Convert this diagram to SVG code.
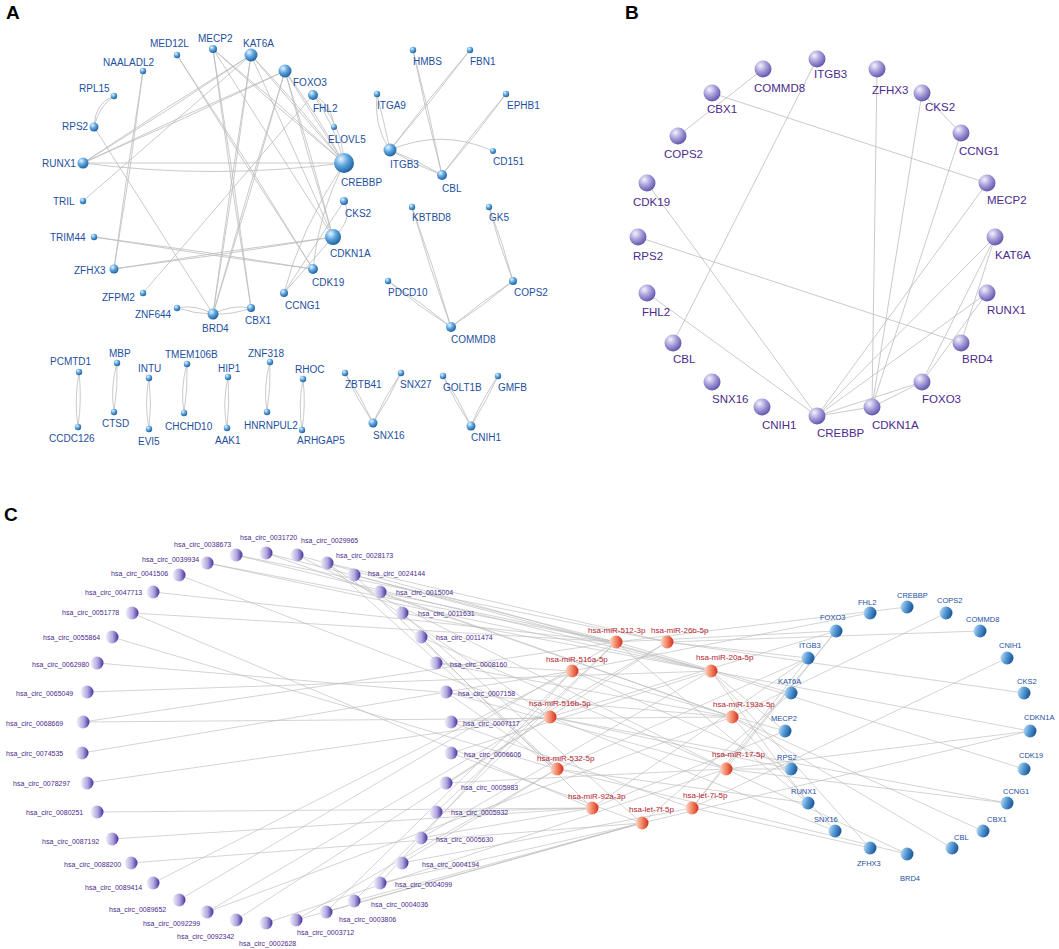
<svg xmlns="http://www.w3.org/2000/svg" width="1059" height="949" viewBox="0 0 1059 949">
<defs>
<radialGradient id="gA" cx="0.35" cy="0.3" r="0.75"><stop offset="0" stop-color="#eaf5fd"/><stop offset="0.45" stop-color="#5fa8e0"/><stop offset="1" stop-color="#1b5a9a"/></radialGradient>
<radialGradient id="gB" cx="0.35" cy="0.3" r="0.75"><stop offset="0" stop-color="#f4f2fc"/><stop offset="0.5" stop-color="#a39bd8"/><stop offset="1" stop-color="#5c50a8"/></radialGradient>
<linearGradient id="gCirc" x1="0" y1="0" x2="1" y2="0"><stop offset="0" stop-color="#f4f2fc"/><stop offset="0.55" stop-color="#b0a8de"/><stop offset="1" stop-color="#4a2c9e"/></linearGradient>
<linearGradient id="gMir" x1="0" y1="0" x2="1" y2="0"><stop offset="0" stop-color="#fcd8ca"/><stop offset="0.55" stop-color="#f0805f"/><stop offset="1" stop-color="#d42e1e"/></linearGradient>
<linearGradient id="gMr" x1="0" y1="0" x2="1" y2="0.3"><stop offset="0" stop-color="#cfe6f8"/><stop offset="0.5" stop-color="#5d9fd8"/><stop offset="1" stop-color="#1d5c9c"/></linearGradient>
</defs>
<style>
.e{stroke:#bcbcbc;stroke-width:0.8;fill:none}
.ec{stroke:#bdbdbd;stroke-width:0.65;fill:none}
.nA{fill:url(#gA)}
.nB{fill:url(#gB)}
.nc{fill:url(#gCirc)}
.nm{fill:url(#gMir)}
.ng{fill:url(#gMr)}
text{font-family:"Liberation Sans",Arial,sans-serif}
.lA{font-size:10px;fill:#1d4f9e}
.lB{font-size:11.5px;fill:#4b2a8c}
.lc{font-size:7px;fill:#4b2a8c}
.lm{font-size:8px;fill:#b2222c}
.lg{font-size:7.5px;fill:#1d4f9e}
.pl{font-size:19px;font-weight:bold;fill:#000}
</style>
<rect width="1059" height="949" fill="#fff"/>
<text class="pl" x="6" y="19">A</text>
<text class="pl" x="625" y="19">B</text>
<text class="pl" x="4" y="521">C</text>

<!-- Panel A connectors -->
<g id="A-edges">
<path class="e" d="M114,96 Q95,102 94,127"/><path class="e" d="M114,96 Q99,106 94,127"/>
<path class="e" d="M143,71 Q127,170 114,269"/><path class="e" d="M143,71 Q131,170 114,269"/>
<path class="e" d="M177,55 Q244,163 313,269"/><path class="e" d="M177,55 Q247,160 313,269"/>
<path class="e" d="M213,49 Q230,179 251,308"/><path class="e" d="M213,49 Q234,178 251,308"/>
<path class="e" d="M213,49 Q277,108 344,163"/><path class="e" d="M213,49 Q280,104 344,163"/>
<path class="e" d="M213,49 L333,237"/>
<path class="e" d="M251,55 Q166,107 83,163"/><path class="e" d="M251,55 Q168,111 83,163"/>
<path class="e" d="M285,71 Q183,115 83,163"/><path class="e" d="M285,71 Q185,119 83,163"/>
<path class="e" d="M83,201 L251,55"/>
<path class="e" d="M94,127 L213,314"/>
<path class="e" d="M251,55 Q230,185 213,314"/><path class="e" d="M251,55 Q234,185 213,314"/>
<path class="e" d="M285,71 Q247,193 213,314"/><path class="e" d="M285,71 Q251,193 213,314"/>
<path class="e" d="M313,95 L143,293"/>
<path class="e" d="M251,55 Q296,108 344,163"/><path class="e" d="M251,55 Q299,105 344,163"/>
<path class="e" d="M251,55 L333,237"/>
<path class="e" d="M285,71 Q313,116 344,163"/><path class="e" d="M285,71 Q316,113 344,163"/>
<path class="e" d="M285,71 Q307,155 333,237"/><path class="e" d="M285,71 Q311,153 333,237"/>
<path class="e" d="M313,95 Q333,120 344,163"/><path class="e" d="M313,95 Q342,122 344,163"/>
<path class="e" d="M313,95 Q332,103 334,127"/>
<path class="e" d="M83,163 L344,163"/><path class="e" d="M83,163 Q213,180 344,163"/>
<path class="e" d="M94,237 Q203,251 313,269"/><path class="e" d="M94,237 Q204,255 313,269"/>
<path class="e" d="M114,269 Q223,251 333,237"/><path class="e" d="M114,269 Q224,255 333,237"/>
<path class="e" d="M344,201 Q354,220 333,237"/>
<path class="e" d="M344,201 L284,293"/>
<path class="e" d="M344,163 Q300,230 284,293"/>
<path class="e" d="M333,237 L284,293"/>
<path class="e" d="M344,163 Q318,215 313,269"/>
<path class="e" d="M177,308 Q195,304 213,314"/><path class="e" d="M177,308 Q195,314 213,314"/>
<path class="e" d="M213,314 Q232,304 251,308"/><path class="e" d="M213,314 Q232,315 251,308"/>
<!-- right cluster -->
<path class="e" d="M377,94 Q373,125 390,150"/><path class="e" d="M377,94 Q384,122 390,150"/>
<path class="e" d="M470,50 Q431.6,101.2 390,150"/><path class="e" d="M470,50 Q428.4,98.8 390,150"/>
<path class="e" d="M413,50 Q429.4,112 442,175"/><path class="e" d="M413,50 Q425.6,113 442,175"/>
<path class="e" d="M506,94 Q475.6,135.7 442,175"/><path class="e" d="M506,94 Q472.4,133.3 442,175"/>
<path class="e" d="M390,150 Q442,128 493,151"/>
<path class="e" d="M390,150 Q415,165 442,175"/><path class="e" d="M390,150 Q417,160 442,175"/>
<path class="e" d="M412,207 Q433.5,266 451,327"/><path class="e" d="M412,207 Q429.5,268 451,327"/>
<path class="e" d="M388,281 Q418,306 451,327"/><path class="e" d="M388,281 Q421,302 451,327"/>
<path class="e" d="M513,281 Q483,306 451,327"/><path class="e" d="M513,281 Q481,302 451,327"/>
<path class="e" d="M489,207 Q503,243 513,281"/><path class="e" d="M489,207 Q499,245 513,281"/>
<!-- pairs -->
<path class="e" d="M79,372 Q74,400 78,427"/><path class="e" d="M79,372 Q82,400 78,427"/>
<path class="e" d="M117,363 Q110,388 114,412"/><path class="e" d="M117,363 Q118,388 114,412"/>
<path class="e" d="M149,378 Q144,404 149,429"/><path class="e" d="M149,378 Q152,404 149,429"/>
<path class="e" d="M187,364 Q180,388 184,413"/><path class="e" d="M187,364 Q188,388 184,413"/>
<path class="e" d="M228,377 Q222,403 227,428"/><path class="e" d="M228,377 Q230,403 227,428"/>
<path class="e" d="M270,362 Q263,387 267,412"/><path class="e" d="M270,362 Q271,387 267,412"/>
<path class="e" d="M303,379 Q298,405 302,430"/><path class="e" d="M303,379 Q306,405 302,430"/>
<path class="e" d="M345,373 Q361,396 373,423"/><path class="e" d="M345,373 Q357,399 373,423"/>
<path class="e" d="M401,373 Q385,396 373,423"/><path class="e" d="M401,373 Q389,399 373,423"/>
<path class="e" d="M443,376 Q459,399 471,426"/><path class="e" d="M443,376 Q455,402 471,426"/>
<path class="e" d="M498,376 Q482,399 471,426"/><path class="e" d="M498,376 Q486,402 471,426"/>
</g>

<!-- Panel A nodes -->
<g id="A-MED12L"><circle class="nA" cx="177" cy="55" r="3.2"/><text class="lA" x="150" y="46.5">MED12L</text></g>
<g id="A-MECP2"><circle class="nA" cx="213" cy="49" r="4"/><text class="lA" x="198" y="41.5">MECP2</text></g>
<g id="A-KAT6A"><circle class="nA" cx="251" cy="55" r="6.5"/><text class="lA" x="243" y="46.5">KAT6A</text></g>
<g id="A-NAALADL2"><circle class="nA" cx="143" cy="71" r="3.2"/><text class="lA" x="103" y="65.5">NAALADL2</text></g>
<g id="A-FOXO3"><circle class="nA" cx="285" cy="71" r="6.5"/><text class="lA" x="293" y="85.5">FOXO3</text></g>
<g id="A-RPL15"><circle class="nA" cx="114" cy="96" r="3.2"/><text class="lA" x="79" y="91.5">RPL15</text></g>
<g id="A-FHL2"><circle class="nA" cx="313" cy="95" r="5"/><text class="lA" x="313" y="111.5">FHL2</text></g>
<g id="A-RPS2"><circle class="nA" cx="94" cy="127" r="4.5"/><text class="lA" x="62" y="129.5">RPS2</text></g>
<g id="A-ELOVL5"><circle class="nA" cx="334" cy="127" r="3"/><text class="lA" x="328" y="142.5">ELOVL5</text></g>
<g id="A-RUNX1"><circle class="nA" cx="83" cy="163" r="5.5"/><text class="lA" x="42" y="166.5">RUNX1</text></g>
<g id="A-CREBBP"><circle class="nA" cx="344" cy="163" r="10"/><text class="lA" x="341" y="185.5">CREBBP</text></g>
<g id="A-TRIL"><circle class="nA" cx="83" cy="201" r="3.2"/><text class="lA" x="53" y="204.5">TRIL</text></g>
<g id="A-CKS2"><circle class="nA" cx="344" cy="201" r="4"/><text class="lA" x="345" y="216.5">CKS2</text></g>
<g id="A-TRIM44"><circle class="nA" cx="94" cy="237" r="3.2"/><text class="lA" x="50" y="240.5">TRIM44</text></g>
<g id="A-CDKN1A"><circle class="nA" cx="333" cy="237" r="8"/><text class="lA" x="330" y="256.5">CDKN1A</text></g>
<g id="A-ZFHX3"><circle class="nA" cx="114" cy="269" r="4.5"/><text class="lA" x="74" y="273.5">ZFHX3</text></g>
<g id="A-CDK19"><circle class="nA" cx="313" cy="269" r="5"/><text class="lA" x="312" y="285.5">CDK19</text></g>
<g id="A-ZFPM2"><circle class="nA" cx="143" cy="293" r="3.2"/><text class="lA" x="102" y="300.5">ZFPM2</text></g>
<g id="A-CCNG1"><circle class="nA" cx="284" cy="293" r="4"/><text class="lA" x="285" y="308.5">CCNG1</text></g>
<g id="A-ZNF644"><circle class="nA" cx="177" cy="308" r="3.2"/><text class="lA" x="135" y="317.5">ZNF644</text></g>
<g id="A-BRD4"><circle class="nA" cx="213" cy="314" r="5.5"/><text class="lA" x="202" y="331.5">BRD4</text></g>
<g id="A-CBX1"><circle class="nA" cx="251" cy="308" r="4"/><text class="lA" x="245" y="323.5">CBX1</text></g>
<g id="A-HMBS"><circle class="nA" cx="413" cy="50" r="3.2"/><text class="lA" x="413" y="64.5">HMBS</text></g>
<g id="A-FBN1"><circle class="nA" cx="470" cy="50" r="3.2"/><text class="lA" x="470" y="64.5">FBN1</text></g>
<g id="A-ITGA9"><circle class="nA" cx="377" cy="94" r="3.2"/><text class="lA" x="377" y="108.5">ITGA9</text></g>
<g id="A-EPHB1"><circle class="nA" cx="506" cy="94" r="3.2"/><text class="lA" x="507" y="108.5">EPHB1</text></g>
<g id="A-ITGB3"><circle class="nA" cx="390" cy="150" r="6.5"/><text class="lA" x="390" y="167.5">ITGB3</text></g>
<g id="A-CBL"><circle class="nA" cx="442" cy="175" r="5"/><text class="lA" x="442" y="191.5">CBL</text></g>
<g id="A-CD151"><circle class="nA" cx="493" cy="151" r="3"/><text class="lA" x="493" y="164.5">CD151</text></g>
<g id="A-KBTBD8"><circle class="nA" cx="412" cy="207" r="3.2"/><text class="lA" x="412" y="220.5">KBTBD8</text></g>
<g id="A-GK5"><circle class="nA" cx="489" cy="207" r="3.2"/><text class="lA" x="489" y="220.5">GK5</text></g>
<g id="A-PDCD10"><circle class="nA" cx="388" cy="281" r="3.2"/><text class="lA" x="388" y="295.5">PDCD10</text></g>
<g id="A-COPS2"><circle class="nA" cx="513" cy="281" r="4"/><text class="lA" x="514" y="295.5">COPS2</text></g>
<g id="A-COMMD8"><circle class="nA" cx="451" cy="327" r="5"/><text class="lA" x="451" y="342.5">COMMD8</text></g>
<g id="A-PCMTD1"><circle class="nA" cx="79" cy="372" r="3.2"/><text class="lA" x="50" y="364.5">PCMTD1</text></g>
<g id="A-CCDC126"><circle class="nA" cx="78" cy="427" r="3.2"/><text class="lA" x="49" y="441.5">CCDC126</text></g>
<g id="A-MBP"><circle class="nA" cx="117" cy="363" r="3.2"/><text class="lA" x="109" y="356.5">MBP</text></g>
<g id="A-CTSD"><circle class="nA" cx="114" cy="412" r="3.2"/><text class="lA" x="102" y="426.5">CTSD</text></g>
<g id="A-INTU"><circle class="nA" cx="149" cy="378" r="3.2"/><text class="lA" x="138" y="371.5">INTU</text></g>
<g id="A-EVI5"><circle class="nA" cx="149" cy="429" r="3.2"/><text class="lA" x="138" y="444.5">EVI5</text></g>
<g id="A-TMEM106B"><circle class="nA" cx="187" cy="364" r="3.2"/><text class="lA" x="165" y="357.5">TMEM106B</text></g>
<g id="A-CHCHD10"><circle class="nA" cx="184" cy="413" r="3.2"/><text class="lA" x="165" y="429.5">CHCHD10</text></g>
<g id="A-HIP1"><circle class="nA" cx="228" cy="377" r="3.2"/><text class="lA" x="218" y="371.5">HIP1</text></g>
<g id="A-AAK1"><circle class="nA" cx="227" cy="428" r="3.2"/><text class="lA" x="215" y="443.5">AAK1</text></g>
<g id="A-ZNF318"><circle class="nA" cx="270" cy="362" r="3.2"/><text class="lA" x="248" y="356.5">ZNF318</text></g>
<g id="A-HNRNPUL2"><circle class="nA" cx="267" cy="412" r="3.2"/><text class="lA" x="244" y="428.5">HNRNPUL2</text></g>
<g id="A-RHOC"><circle class="nA" cx="303" cy="379" r="3.2"/><text class="lA" x="295" y="372.5">RHOC</text></g>
<g id="A-ARHGAP5"><circle class="nA" cx="302" cy="430" r="3.2"/><text class="lA" x="297" y="443.5">ARHGAP5</text></g>
<g id="A-ZBTB41"><circle class="nA" cx="345" cy="373" r="3.2"/><text class="lA" x="345" y="387.5">ZBTB41</text></g>
<g id="A-SNX27"><circle class="nA" cx="401" cy="373" r="3.2"/><text class="lA" x="400" y="387.5">SNX27</text></g>
<g id="A-SNX16"><circle class="nA" cx="373" cy="423" r="4.5"/><text class="lA" x="373" y="438.5">SNX16</text></g>
<g id="A-GOLT1B"><circle class="nA" cx="443" cy="376" r="3.2"/><text class="lA" x="443" y="390.5">GOLT1B</text></g>
<g id="A-GMFB"><circle class="nA" cx="498" cy="376" r="3.2"/><text class="lA" x="498" y="390.5">GMFB</text></g>
<g id="A-CNIH1"><circle class="nA" cx="471" cy="426" r="4.5"/><text class="lA" x="471" y="440.5">CNIH1</text></g>

<!-- Panel B connectors -->
<g id="B-edges" class="e">
<line x1="763" y1="69" x2="678" y2="136"/>
<line x1="712" y1="93" x2="987" y2="183"/>
<line x1="817" y1="59" x2="673" y2="343"/>
<line x1="877" y1="69" x2="872" y2="407"/>
<line x1="922" y1="93" x2="961" y2="133"/>
<line x1="922" y1="93" x2="872" y2="407"/>
<line x1="961" y1="133" x2="872" y2="407"/>
<line x1="987" y1="183" x2="817" y2="416"/>
<line x1="995" y1="237" x2="817" y2="416"/>
<line x1="995" y1="237" x2="961" y2="343"/>
<line x1="995" y1="237" x2="922" y2="382"/>
<line x1="987" y1="293" x2="817" y2="416"/>
<line x1="987" y1="293" x2="922" y2="382"/>
<line x1="638" y1="237" x2="961" y2="343"/>
<line x1="922" y1="382" x2="817" y2="416"/>
<line x1="922" y1="382" x2="872" y2="407"/>
<line x1="872" y1="407" x2="817" y2="416"/>
<line x1="647" y1="183" x2="817" y2="416"/>
<line x1="647" y1="293" x2="817" y2="416"/>
</g>

<!-- Panel B nodes -->
<g id="B-ITGB3"><circle class="nB" cx="817" cy="59" r="8.5"/><text class="lB" x="814" y="78">ITGB3</text></g>
<g id="B-COMMD8"><circle class="nB" cx="763" cy="69" r="8.5"/><text class="lB" x="754" y="92">COMMD8</text></g>
<g id="B-ZFHX3"><circle class="nB" cx="877" cy="69" r="8.5"/><text class="lB" x="872" y="94">ZFHX3</text></g>
<g id="B-CBX1"><circle class="nB" cx="712" cy="93" r="8.5"/><text class="lB" x="707" y="113">CBX1</text></g>
<g id="B-CKS2"><circle class="nB" cx="922" cy="93" r="8.5"/><text class="lB" x="925" y="111">CKS2</text></g>
<g id="B-COPS2"><circle class="nB" cx="678" cy="136" r="8.5"/><text class="lB" x="664" y="158">COPS2</text></g>
<g id="B-CCNG1"><circle class="nB" cx="961" cy="133" r="8.5"/><text class="lB" x="959" y="155">CCNG1</text></g>
<g id="B-CDK19"><circle class="nB" cx="647" cy="183" r="8.5"/><text class="lB" x="633" y="206">CDK19</text></g>
<g id="B-MECP2"><circle class="nB" cx="987" cy="183" r="8.5"/><text class="lB" x="987" y="204">MECP2</text></g>
<g id="B-RPS2"><circle class="nB" cx="638" cy="237" r="8.5"/><text class="lB" x="633" y="260">RPS2</text></g>
<g id="B-KAT6A"><circle class="nB" cx="995" cy="237" r="8.5"/><text class="lB" x="995" y="259">KAT6A</text></g>
<g id="B-FHL2"><circle class="nB" cx="647" cy="293" r="8.5"/><text class="lB" x="642" y="316">FHL2</text></g>
<g id="B-RUNX1"><circle class="nB" cx="987" cy="293" r="8.5"/><text class="lB" x="987" y="314">RUNX1</text></g>
<g id="B-CBL"><circle class="nB" cx="673" cy="343" r="8.5"/><text class="lB" x="673" y="363">CBL</text></g>
<g id="B-BRD4"><circle class="nB" cx="961" cy="343" r="8.5"/><text class="lB" x="962" y="363">BRD4</text></g>
<g id="B-SNX16"><circle class="nB" cx="712" cy="382" r="8.5"/><text class="lB" x="712" y="403">SNX16</text></g>
<g id="B-FOXO3"><circle class="nB" cx="922" cy="382" r="8.5"/><text class="lB" x="922" y="403">FOXO3</text></g>
<g id="B-CNIH1"><circle class="nB" cx="762" cy="407" r="8.5"/><text class="lB" x="762" y="429">CNIH1</text></g>
<g id="B-CDKN1A"><circle class="nB" cx="872" cy="407" r="8.5"/><text class="lB" x="872" y="429">CDKN1A</text></g>
<g id="B-CREBBP"><circle class="nB" cx="817" cy="416" r="8.5"/><text class="lB" x="817" y="437">CREBBP</text></g>

<!-- Panel C connectors -->
<g id="C-edges" class="ec">
<line x1="236" y1="555" x2="667" y2="642"/><line x1="236" y1="555" x2="711" y2="671"/>
<line x1="266" y1="553" x2="616" y2="642"/><line x1="266" y1="553" x2="732" y2="717"/>
<line x1="297" y1="555" x2="711" y2="671"/><line x1="297" y1="555" x2="726" y2="769"/>
<line x1="327" y1="563" x2="550" y2="717"/><line x1="327" y1="563" x2="557" y2="769"/><line x1="327" y1="563" x2="667" y2="642"/>
<line x1="207" y1="563" x2="616" y2="642"/><line x1="207" y1="563" x2="711" y2="671"/>
<line x1="179" y1="575" x2="550" y2="717"/>
<line x1="153" y1="592" x2="616" y2="642"/>
<line x1="132" y1="613" x2="616" y2="642"/><line x1="132" y1="613" x2="592" y2="808"/>
<line x1="112" y1="637" x2="557" y2="769"/>
<line x1="97" y1="663" x2="732" y2="717"/>
<line x1="87" y1="692" x2="711" y2="671"/>
<line x1="83" y1="722" x2="732" y2="717"/><line x1="83" y1="722" x2="616" y2="642"/>
<line x1="82" y1="753" x2="572" y2="671"/>
<line x1="87" y1="783" x2="550" y2="717"/>
<line x1="97" y1="812" x2="592" y2="808"/>
<line x1="112" y1="839" x2="592" y2="808"/>
<line x1="131" y1="863" x2="642" y2="823"/>
<line x1="153" y1="883" x2="572" y2="671"/>
<line x1="179" y1="900" x2="616" y2="642"/>
<line x1="207" y1="912" x2="667" y2="642"/><line x1="207" y1="912" x2="732" y2="717"/>
<line x1="236" y1="920" x2="550" y2="717"/>
<line x1="266" y1="923" x2="726" y2="769"/>
<line x1="296" y1="920" x2="557" y2="769"/><line x1="296" y1="920" x2="642" y2="823"/>
<line x1="326" y1="912" x2="642" y2="823"/><line x1="326" y1="912" x2="572" y2="671"/>
<line x1="354" y1="901" x2="616" y2="642"/><line x1="354" y1="901" x2="642" y2="823"/>
<line x1="380" y1="883" x2="572" y2="671"/><line x1="380" y1="883" x2="642" y2="823"/>
<line x1="402" y1="863" x2="557" y2="769"/><line x1="402" y1="863" x2="692" y2="808"/>
<line x1="421" y1="838" x2="592" y2="808"/><line x1="421" y1="838" x2="711" y2="671"/>
<line x1="436" y1="812" x2="592" y2="808"/><line x1="436" y1="812" x2="616" y2="642"/>
<line x1="446" y1="783" x2="667" y2="642"/><line x1="446" y1="783" x2="726" y2="769"/>
<line x1="451" y1="753" x2="642" y2="823"/><line x1="451" y1="753" x2="711" y2="671"/>
<line x1="451" y1="722" x2="550" y2="717"/><line x1="451" y1="722" x2="692" y2="808"/>
<line x1="446" y1="692" x2="726" y2="769"/><line x1="446" y1="692" x2="557" y2="769"/>
<line x1="436" y1="663" x2="572" y2="671"/><line x1="436" y1="663" x2="732" y2="717"/>
<line x1="421" y1="637" x2="592" y2="808"/><line x1="421" y1="637" x2="726" y2="769"/>
<line x1="402" y1="613" x2="711" y2="671"/><line x1="402" y1="613" x2="642" y2="823"/>
<line x1="380" y1="592" x2="616" y2="642"/><line x1="380" y1="592" x2="732" y2="717"/>
<line x1="354" y1="575" x2="711" y2="671"/><line x1="354" y1="575" x2="557" y2="769"/>
<line x1="616" y1="642" x2="907" y2="607"/><line x1="616" y1="642" x2="836" y2="631"/><line x1="616" y1="642" x2="791" y2="693"/><line x1="616" y1="642" x2="808" y2="803"/>
<line x1="667" y1="642" x2="980" y2="631"/><line x1="667" y1="642" x2="1024" y2="693"/><line x1="667" y1="642" x2="808" y2="658"/>
<line x1="572" y1="671" x2="870" y2="613"/><line x1="572" y1="671" x2="785" y2="731"/><line x1="572" y1="671" x2="791" y2="769"/>
<line x1="711" y1="671" x2="1030" y2="731"/><line x1="711" y1="671" x2="1024" y2="769"/><line x1="711" y1="671" x2="785" y2="731"/><line x1="711" y1="671" x2="808" y2="803"/><line x1="711" y1="671" x2="870" y2="848"/>
<line x1="550" y1="717" x2="836" y2="631"/><line x1="550" y1="717" x2="791" y2="769"/><line x1="550" y1="717" x2="1007" y2="803"/><line x1="550" y1="717" x2="835" y2="831"/>
<line x1="732" y1="717" x2="946" y2="613"/><line x1="732" y1="717" x2="983" y2="831"/><line x1="732" y1="717" x2="952" y2="848"/><line x1="732" y1="717" x2="835" y2="831"/>
<line x1="557" y1="769" x2="808" y2="658"/><line x1="557" y1="769" x2="808" y2="803"/><line x1="557" y1="769" x2="907" y2="854"/>
<line x1="726" y1="769" x2="1030" y2="731"/><line x1="726" y1="769" x2="1007" y2="803"/><line x1="726" y1="769" x2="907" y2="854"/><line x1="726" y1="769" x2="791" y2="769"/><line x1="726" y1="769" x2="836" y2="631"/>
<line x1="592" y1="808" x2="808" y2="658"/><line x1="592" y1="808" x2="785" y2="731"/>
<line x1="692" y1="808" x2="836" y2="631"/><line x1="692" y1="808" x2="1007" y2="658"/><line x1="692" y1="808" x2="808" y2="658"/><line x1="692" y1="808" x2="870" y2="848"/>
<line x1="642" y1="823" x2="1030" y2="731"/><line x1="642" y1="823" x2="791" y2="693"/>
</g>

<!-- Panel C circRNA nodes -->
<g id="C-hsa_circ_0038673"><circle class="nc" cx="236" cy="555" r="6.5"/><text class="lc" x="174" y="546.5">hsa_circ_0038673</text></g>
<g id="C-hsa_circ_0031720"><circle class="nc" cx="266" cy="553" r="6.5"/><text class="lc" x="240" y="539.5">hsa_circ_0031720</text></g>
<g id="C-hsa_circ_0029965"><circle class="nc" cx="297" cy="555" r="6.5"/><text class="lc" x="301" y="542.5">hsa_circ_0029965</text></g>
<g id="C-hsa_circ_0028173"><circle class="nc" cx="327" cy="563" r="6.5"/><text class="lc" x="336" y="557.5">hsa_circ_0028173</text></g>
<g id="C-hsa_circ_0039934"><circle class="nc" cx="207" cy="563" r="6.5"/><text class="lc" x="142" y="561.5">hsa_circ_0039934</text></g>
<g id="C-hsa_circ_0041506"><circle class="nc" cx="179" cy="575" r="6.5"/><text class="lc" x="111" y="575.5">hsa_circ_0041506</text></g>
<g id="C-hsa_circ_0047713"><circle class="nc" cx="153" cy="592" r="6.5"/><text class="lc" x="85" y="594.5">hsa_circ_0047713</text></g>
<g id="C-hsa_circ_0051778"><circle class="nc" cx="132" cy="613" r="6.5"/><text class="lc" x="62" y="614.5">hsa_circ_0051778</text></g>
<g id="C-hsa_circ_0055864"><circle class="nc" cx="112" cy="637" r="6.5"/><text class="lc" x="43" y="639.5">hsa_circ_0055864</text></g>
<g id="C-hsa_circ_0062980"><circle class="nc" cx="97" cy="663" r="6.5"/><text class="lc" x="32" y="666.5">hsa_circ_0062980</text></g>
<g id="C-hsa_circ_0065049"><circle class="nc" cx="87" cy="692" r="6.5"/><text class="lc" x="16" y="695.5">hsa_circ_0065049</text></g>
<g id="C-hsa_circ_0068669"><circle class="nc" cx="83" cy="722" r="6.5"/><text class="lc" x="6" y="725.5">hsa_circ_0068669</text></g>
<g id="C-hsa_circ_0074535"><circle class="nc" cx="82" cy="753" r="6.5"/><text class="lc" x="6" y="755.5">hsa_circ_0074535</text></g>
<g id="C-hsa_circ_0078297"><circle class="nc" cx="87" cy="783" r="6.5"/><text class="lc" x="13" y="785.5">hsa_circ_0078297</text></g>
<g id="C-hsa_circ_0080251"><circle class="nc" cx="97" cy="812" r="6.5"/><text class="lc" x="26" y="814.5">hsa_circ_0080251</text></g>
<g id="C-hsa_circ_0087192"><circle class="nc" cx="112" cy="839" r="6.5"/><text class="lc" x="42" y="843.5">hsa_circ_0087192</text></g>
<g id="C-hsa_circ_0088200"><circle class="nc" cx="131" cy="863" r="6.5"/><text class="lc" x="64" y="866.5">hsa_circ_0088200</text></g>
<g id="C-hsa_circ_0089414"><circle class="nc" cx="153" cy="883" r="6.5"/><text class="lc" x="85" y="889.5">hsa_circ_0089414</text></g>
<g id="C-hsa_circ_0089652"><circle class="nc" cx="179" cy="900" r="6.5"/><text class="lc" x="109" y="911.5">hsa_circ_0089652</text></g>
<g id="C-hsa_circ_0092299"><circle class="nc" cx="207" cy="912" r="6.5"/><text class="lc" x="143" y="925.5">hsa_circ_0092299</text></g>
<g id="C-hsa_circ_0092342"><circle class="nc" cx="236" cy="920" r="6.5"/><text class="lc" x="177" y="938.5">hsa_circ_0092342</text></g>
<g id="C-hsa_circ_0002628"><circle class="nc" cx="266" cy="923" r="6.5"/><text class="lc" x="239" y="945.5">hsa_circ_0002628</text></g>
<g id="C-hsa_circ_0003712"><circle class="nc" cx="296" cy="920" r="6.5"/><text class="lc" x="297" y="934.5">hsa_circ_0003712</text></g>
<g id="C-hsa_circ_0003806"><circle class="nc" cx="326" cy="912" r="6.5"/><text class="lc" x="339" y="921.5">hsa_circ_0003806</text></g>
<g id="C-hsa_circ_0004036"><circle class="nc" cx="354" cy="901" r="6.5"/><text class="lc" x="371" y="906.5">hsa_circ_0004036</text></g>
<g id="C-hsa_circ_0004099"><circle class="nc" cx="380" cy="883" r="6.5"/><text class="lc" x="395" y="886.5">hsa_circ_0004099</text></g>
<g id="C-hsa_circ_0004194"><circle class="nc" cx="402" cy="863" r="6.5"/><text class="lc" x="422" y="866.5">hsa_circ_0004194</text></g>
<g id="C-hsa_circ_0005630"><circle class="nc" cx="421" cy="838" r="6.5"/><text class="lc" x="436" y="841.5">hsa_circ_0005630</text></g>
<g id="C-hsa_circ_0005932"><circle class="nc" cx="436" cy="812" r="6.5"/><text class="lc" x="451" y="814.5">hsa_circ_0005932</text></g>
<g id="C-hsa_circ_0005983"><circle class="nc" cx="446" cy="783" r="6.5"/><text class="lc" x="461" y="789.5">hsa_circ_0005983</text></g>
<g id="C-hsa_circ_0006606"><circle class="nc" cx="451" cy="753" r="6.5"/><text class="lc" x="464" y="756.5">hsa_circ_0006606</text></g>
<g id="C-hsa_circ_0007117"><circle class="nc" cx="451" cy="722" r="6.5"/><text class="lc" x="463" y="725.5">hsa_circ_0007117</text></g>
<g id="C-hsa_circ_0007158"><circle class="nc" cx="446" cy="692" r="6.5"/><text class="lc" x="458" y="695.5">hsa_circ_0007158</text></g>
<g id="C-hsa_circ_0008160"><circle class="nc" cx="436" cy="663" r="6.5"/><text class="lc" x="450" y="666.5">hsa_circ_0008160</text></g>
<g id="C-hsa_circ_0011474"><circle class="nc" cx="421" cy="637" r="6.5"/><text class="lc" x="436" y="639.5">hsa_circ_0011474</text></g>
<g id="C-hsa_circ_0011631"><circle class="nc" cx="402" cy="613" r="6.5"/><text class="lc" x="418" y="615.5">hsa_circ_0011631</text></g>
<g id="C-hsa_circ_0015004"><circle class="nc" cx="380" cy="592" r="6.5"/><text class="lc" x="396" y="594.5">hsa_circ_0015004</text></g>
<g id="C-hsa_circ_0024144"><circle class="nc" cx="354" cy="575" r="6.5"/><text class="lc" x="368" y="575.5">hsa_circ_0024144</text></g>

<!-- Panel C miRNA nodes -->
<g id="C-hsa-miR-512-3p"><circle class="nm" cx="616" cy="642" r="6.5"/><text class="lm" x="588" y="633">hsa-miR-512-3p</text></g>
<g id="C-hsa-miR-26b-5p"><circle class="nm" cx="667" cy="642" r="6.5"/><text class="lm" x="651" y="633">hsa-miR-26b-5p</text></g>
<g id="C-hsa-miR-516a-5p"><circle class="nm" cx="572" cy="671" r="6.5"/><text class="lm" x="546" y="662">hsa-miR-516a-5p</text></g>
<g id="C-hsa-miR-20a-5p"><circle class="nm" cx="711" cy="671" r="6.5"/><text class="lm" x="696" y="660">hsa-miR-20a-5p</text></g>
<g id="C-hsa-miR-516b-5p"><circle class="nm" cx="550" cy="717" r="6.5"/><text class="lm" x="529" y="706">hsa-miR-516b-5p</text></g>
<g id="C-hsa-miR-193a-5p"><circle class="nm" cx="732" cy="717" r="6.5"/><text class="lm" x="713" y="707">hsa-miR-193a-5p</text></g>
<g id="C-hsa-miR-532-5p"><circle class="nm" cx="557" cy="769" r="6.5"/><text class="lm" x="537" y="761">hsa-miR-532-5p</text></g>
<g id="C-hsa-miR-17-5p"><circle class="nm" cx="726" cy="769" r="6.5"/><text class="lm" x="712" y="757">hsa-miR-17-5p</text></g>
<g id="C-hsa-miR-92a-3p"><circle class="nm" cx="592" cy="808" r="6.5"/><text class="lm" x="568" y="799">hsa-miR-92a-3p</text></g>
<g id="C-hsa-let-7i-5p"><circle class="nm" cx="692" cy="808" r="6.5"/><text class="lm" x="683" y="798">hsa-let-7i-5p</text></g>
<g id="C-hsa-let-7f-5p"><circle class="nm" cx="642" cy="823" r="6.5"/><text class="lm" x="629" y="812">hsa-let-7f-5p</text></g>

<!-- Panel C mRNA nodes -->
<g id="C-FHL2"><circle class="ng" cx="870" cy="613" r="6.5"/><text class="lg" x="858" y="604.5">FHL2</text></g>
<g id="C-CREBBP"><circle class="ng" cx="907" cy="607" r="6.5"/><text class="lg" x="897" y="597.5">CREBBP</text></g>
<g id="C-COPS2"><circle class="ng" cx="946" cy="613" r="6.5"/><text class="lg" x="937" y="602.5">COPS2</text></g>
<g id="C-FOXO3"><circle class="ng" cx="836" cy="631" r="6.5"/><text class="lg" x="820" y="619.5">FOXO3</text></g>
<g id="C-COMMD8"><circle class="ng" cx="980" cy="631" r="6.5"/><text class="lg" x="966" y="621.5">COMMD8</text></g>
<g id="C-ITGB3"><circle class="ng" cx="808" cy="658" r="6.5"/><text class="lg" x="799" y="647.5">ITGB3</text></g>
<g id="C-CNIH1"><circle class="ng" cx="1007" cy="658" r="6.5"/><text class="lg" x="999" y="647.5">CNIH1</text></g>
<g id="C-KAT6A"><circle class="ng" cx="791" cy="693" r="6.5"/><text class="lg" x="778" y="683.5">KAT6A</text></g>
<g id="C-CKS2"><circle class="ng" cx="1024" cy="693" r="6.5"/><text class="lg" x="1017" y="683.5">CKS2</text></g>
<g id="C-MECP2"><circle class="ng" cx="785" cy="731" r="6.5"/><text class="lg" x="771" y="720.5">MECP2</text></g>
<g id="C-CDKN1A"><circle class="ng" cx="1030" cy="731" r="6.5"/><text class="lg" x="1024" y="719.5">CDKN1A</text></g>
<g id="C-RPS2"><circle class="ng" cx="791" cy="769" r="6.5"/><text class="lg" x="777" y="759.5">RPS2</text></g>
<g id="C-CDK19"><circle class="ng" cx="1024" cy="769" r="6.5"/><text class="lg" x="1019" y="757.5">CDK19</text></g>
<g id="C-RUNX1"><circle class="ng" cx="808" cy="803" r="6.5"/><text class="lg" x="791" y="793.5">RUNX1</text></g>
<g id="C-CCNG1"><circle class="ng" cx="1007" cy="803" r="6.5"/><text class="lg" x="1003" y="793.5">CCNG1</text></g>
<g id="C-SNX16"><circle class="ng" cx="835" cy="831" r="6.5"/><text class="lg" x="814" y="821.5">SNX16</text></g>
<g id="C-CBX1"><circle class="ng" cx="983" cy="831" r="6.5"/><text class="lg" x="987" y="821.5">CBX1</text></g>
<g id="C-ZFHX3"><circle class="ng" cx="870" cy="848" r="6.5"/><text class="lg" x="857" y="865.5">ZFHX3</text></g>
<g id="C-CBL"><circle class="ng" cx="952" cy="848" r="6.5"/><text class="lg" x="954" y="839.5">CBL</text></g>
<g id="C-BRD4"><circle class="ng" cx="907" cy="854" r="6.5"/><text class="lg" x="900" y="880.5">BRD4</text></g>
</svg>
